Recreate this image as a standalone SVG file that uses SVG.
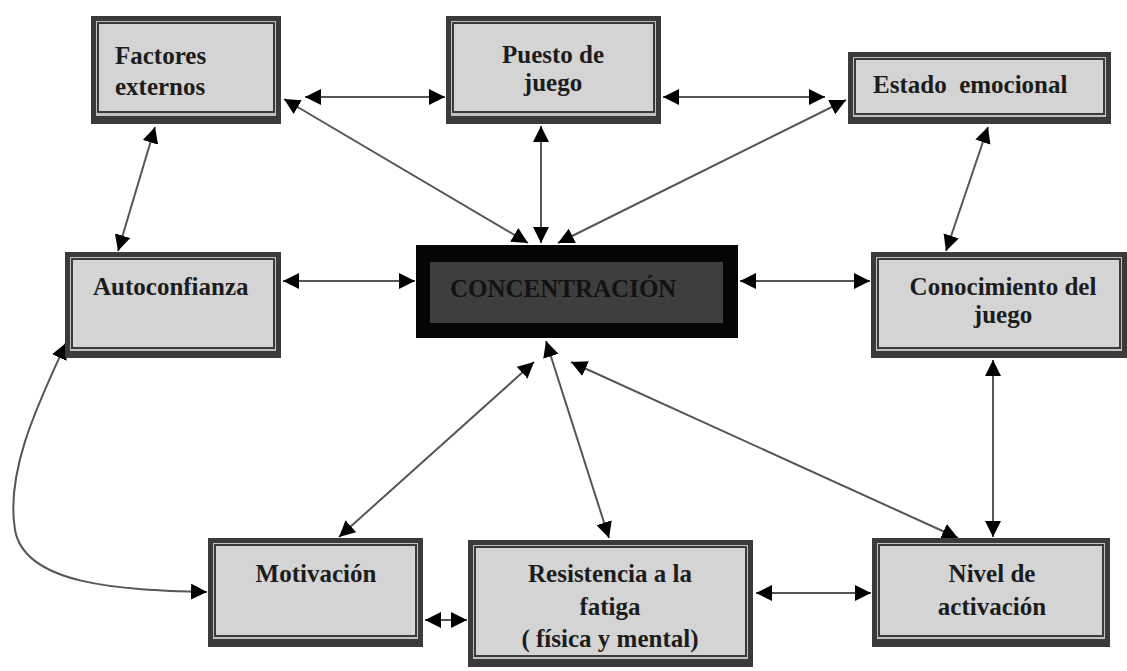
<svg xmlns="http://www.w3.org/2000/svg" width="1127" height="671" viewBox="0 0 1127 671">
<style>
.o{fill:#3b3b3b}
.g{fill:#c2c2c2}
.f{fill:#d4d4d4;stroke:#3b3b3b;stroke-width:2}
.t{font-family:"Liberation Serif","DejaVu Serif",serif;font-weight:bold;font-size:25px;fill:#1c1c1c}
.c{stroke:#555;stroke-width:2;fill:none;marker-start:url(#ah);marker-end:url(#ah)}
</style>
<defs>
<marker id="ah" viewBox="0 0 16 16" refX="16" refY="8" markerWidth="16" markerHeight="16" markerUnits="userSpaceOnUse" orient="auto-start-reverse">
<path d="M0,0 L16,8 L0,16 Z" fill="#000"/>
</marker>
</defs>
<rect width="1127" height="671" fill="#fff"/>
<g id="connectors">
<line class="c" x1="305" y1="97" x2="445" y2="97"/>
<line class="c" x1="663" y1="97" x2="825" y2="97"/>
<line class="c" x1="528" y1="243" x2="284" y2="99"/>
<line class="c" x1="541" y1="243" x2="541" y2="126"/>
<line class="c" x1="558" y1="243" x2="846" y2="100"/>
<line class="c" x1="155" y1="127" x2="118" y2="251"/>
<line class="c" x1="283" y1="281" x2="415" y2="281"/>
<line class="c" x1="740" y1="281" x2="870" y2="281"/>
<line class="c" x1="988" y1="127" x2="946" y2="251"/>
<line class="c" x1="993" y1="360" x2="993" y2="537"/>
<line class="c" x1="534" y1="362" x2="339" y2="537"/>
<line class="c" x1="546" y1="341" x2="609" y2="538"/>
<line class="c" x1="571" y1="362" x2="958" y2="538"/>
<line class="c" x1="756" y1="593" x2="871" y2="593"/>
<line class="c" x1="425" y1="620" x2="467" y2="620"/>
<path class="c" d="M66,343 C40,400 5,470 15,530 C25,585 120,590 207,592"/>
</g>
<g id="factores">
<rect class="o" x="91" y="16" width="190" height="108"/>
<rect class="g" x="96" y="21" width="180" height="95"/>
<rect class="f" x="98" y="23" width="176" height="89"/>
<text class="t" font-family="Liberation Serif" x="115" y="64">Factores</text>
<text class="t" font-family="Liberation Serif" x="115" y="95">externos</text>
</g>
<g id="puesto">
<rect class="o" x="446" y="16" width="215" height="108"/>
<rect class="g" x="451" y="21" width="205" height="95"/>
<rect class="f" x="453" y="23" width="201" height="89"/>
<text class="t" font-family="Liberation Serif" x="553" y="63" text-anchor="middle">Puesto de</text>
<text class="t" font-family="Liberation Serif" x="553" y="91" text-anchor="middle">juego</text>
</g>
<g id="estado">
<rect class="o" x="848" y="52" width="263" height="72"/>
<rect class="g" x="853" y="57" width="253" height="60"/>
<rect class="f" x="855" y="59" width="249" height="55"/>
<text class="t" font-family="Liberation Serif" x="873" y="93" xml:space="preserve">Estado  emocional</text>
</g>
<g id="autoconfianza">
<rect class="o" x="65" y="252" width="216" height="106"/>
<rect class="g" x="70" y="257" width="206" height="94"/>
<rect class="f" x="72" y="259" width="202" height="89"/>
<text class="t" font-family="Liberation Serif" x="93" y="295">Autoconfianza</text>
</g>
<g id="concentracion">
<rect x="416" y="245" width="322" height="93" fill="#050505"/>
<rect x="430" y="262" width="293" height="61" fill="#3e3e3e"/>
<text class="t" font-family="Liberation Serif" x="450" y="297" style="fill:#121212">CONCENTRACIÓN</text>
</g>
<g id="conocimiento">
<rect class="o" x="871" y="252" width="256" height="106"/>
<rect class="g" x="876" y="257" width="246" height="94"/>
<rect class="f" x="878" y="259" width="242" height="89"/>
<text class="t" font-family="Liberation Serif" x="1003" y="295" text-anchor="middle">Conocimiento del</text>
<text class="t" font-family="Liberation Serif" x="1003" y="323" text-anchor="middle">juego</text>
</g>
<g id="motivacion">
<rect class="o" x="208" y="538" width="215" height="109"/>
<rect class="g" x="213" y="543" width="205" height="96"/>
<rect class="f" x="215" y="545" width="201" height="91"/>
<text class="t" font-family="Liberation Serif" x="316" y="582" text-anchor="middle">Motivación</text>
</g>
<g id="resistencia">
<rect class="o" x="468" y="540" width="285" height="127"/>
<rect class="g" x="473" y="545" width="275" height="114"/>
<rect class="f" x="475" y="547" width="271" height="109"/>
<text class="t" font-family="Liberation Serif" x="610" y="582" text-anchor="middle">Resistencia a la</text>
<text class="t" font-family="Liberation Serif" x="610" y="615" text-anchor="middle">fatiga</text>
<text class="t" font-family="Liberation Serif" x="610" y="647" text-anchor="middle">( física y mental)</text>
</g>
<g id="nivel">
<rect class="o" x="872" y="538" width="238" height="109"/>
<rect class="g" x="877" y="543" width="228" height="96"/>
<rect class="f" x="879" y="545" width="224" height="91"/>
<text class="t" font-family="Liberation Serif" x="992" y="582" text-anchor="middle">Nivel de</text>
<text class="t" font-family="Liberation Serif" x="992" y="615" text-anchor="middle">activación</text>
</g>
</svg>
